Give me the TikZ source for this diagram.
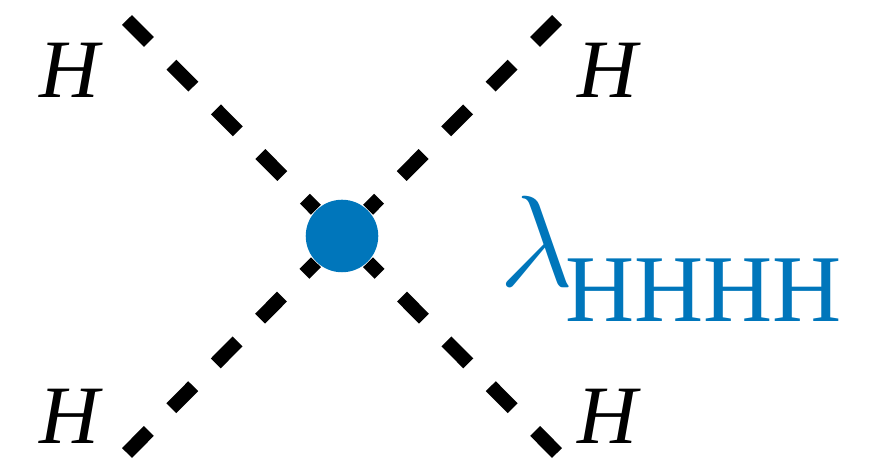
\documentclass[tikz,border=0pt]{standalone}
\usepackage{fix-cm}
\usepackage{fontspec}
\setmainfont{Liberation Serif}
\usetikzlibrary{positioning}
\definecolor{vtxblue}{HTML}{0076BB}

\tikzset{
  higgs/.style={line width=0.14cm, dash pattern=on 0.31cm off 0.32cm},
  vtx/.style={circle, fill=vtxblue, inner sep=0pt, minimum size=0.725cm},
  hlabel/.style={font=\fontsize{23.6}{26}\selectfont\itshape, inner sep=0pt}
}

\begin{document}
\begin{tikzpicture}[x=0.01cm, y=-0.01cm]
  \useasboundingbox (0,0) rectangle (870,459);

  % vertex
  \node[vtx] (v) at (342,236) {};

  % external legs
  \coordinate (e1) at (127,20);
  \coordinate (e2) at (557,20);
  \coordinate (e3) at (127,453);
  \coordinate (e4) at (557,453);
  \draw[higgs] (e1) -- (v);
  \draw[higgs] (e2) -- (v);
  \draw[higgs] (e3) -- (v);
  \draw[higgs] (e4) -- (v);

  % labels
  \node[hlabel] (h1) at (69,70) {H};
  \node[hlabel] (h2) at (607,70) {H};
  \node[hlabel] (h3) at (69,416) {H};
  \node[hlabel] (h4) at (607,416) {H};

  % coupling
  \node[anchor=base west, inner sep=0pt, text=vtxblue] (lam) at (499,287)
    {{\fontsize{37}{40}\selectfont$\lambda$}\kern-0.09cm\raisebox{-0.34cm}{\fontsize{27.2}{29}\selectfont HHHH}};
\end{tikzpicture}
\end{document}
